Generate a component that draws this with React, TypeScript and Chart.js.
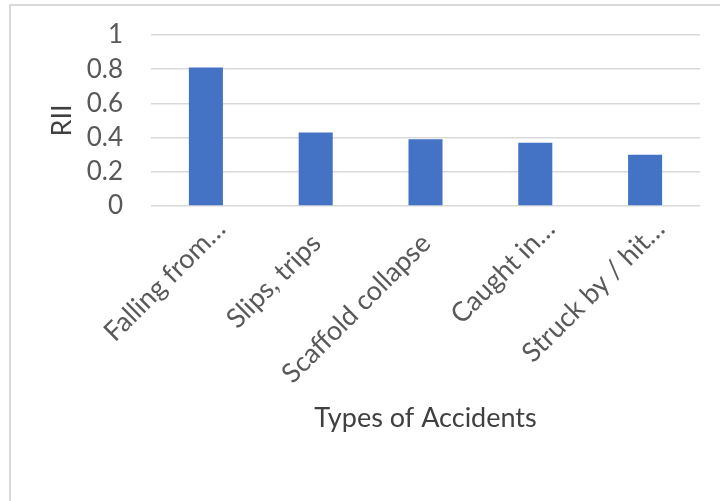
import React, { useEffect, useRef } from 'react';
import { Chart, registerables } from 'chart.js';

Chart.register(...registerables);

// Excel truncates the long names with an ellipsis; the full labels end a little lower along the diagonal.
const categories = ['Falling from…', 'Slips, trips\u2002 ', 'Scaffold collapse\u2002 ', 'Caught in…', 'Struck by / hit…'];
const riiValues = [0.81, 0.43, 0.39, 0.37, 0.3];
const yAxisTitle = 'RII';
const xAxisTitle = 'Types of Accidents';

const TEXT = '#595959';
const TITLE = '#404040';
const FONT = 'Lato, "Open Sans", sans-serif';

const framePlugin = {
  id: 'frame',
  beforeDraw(chart: any) {
    const ctx = chart.ctx;
    ctx.save();
    ctx.fillStyle = '#ffffff';
    ctx.fillRect(0, 0, chart.width, chart.height);
    ctx.strokeStyle = '#d9d9d9';
    ctx.lineWidth = 2;
    ctx.beginPath();
    ctx.moveTo(10, chart.height);
    ctx.lineTo(10, 5);
    ctx.lineTo(chart.width, 5);
    ctx.stroke();
    ctx.restore();
  },
};

export default function App() {
  const ref = useRef<HTMLCanvasElement | null>(null);

  useEffect(() => {
    if (!ref.current) return;
    const chart = new Chart(ref.current, {
      type: 'bar',
      data: {
        labels: categories,
        datasets: [
          {
            data: riiValues,
            backgroundColor: '#4472C4',
            borderWidth: 0,
            barPercentage: 0.31,
            categoryPercentage: 1,
          },
        ],
      },
      options: {
        responsive: false,
        animation: false,
        layout: { padding: { top: 35, right: 20, left: 0, bottom: 0 } },
        plugins: { legend: { display: false }, tooltip: { enabled: false } },
        scales: {
          x: {
            grid: { display: false, drawTicks: false },
            border: { display: false },
            ticks: {
              autoSkip: false,
              maxRotation: 45,
              minRotation: 45,
              padding: 7,
              labelOffset: 15,
              color: TEXT,
              font: { family: FONT, size: 27 },
            },
            title: {
              display: true,
              text: xAxisTitle,
              color: TITLE,
              font: { family: FONT, size: 27 },
              padding: { top: 0, bottom: 67 },
            },
            afterFit(s: any) {
              s.height = 295;
              s.paddingLeft = 0;
              s.paddingRight = 0;
            },
          },
          y: {
            min: 0,
            max: 1,
            ticks: {
              stepSize: 0.2,
              padding: 28,
              color: TEXT,
              font: { family: FONT, size: 26 },
              callback: (v: any) => String(Number(Number(v).toFixed(1))),
            },
            grid: { color: '#d9d9d9', lineWidth: 1.5, drawTicks: false },
            border: { display: false },
            title: {
              display: true,
              text: yAxisTitle,
              color: TITLE,
              font: { family: FONT, size: 27 },
              padding: { top: 46, bottom: 0 },
            },
            afterFit(s: any) {
              s.width = 151;
              s.paddingTop = 0;
              s.paddingBottom = 0;
            },
          },
        },
      },
      plugins: [framePlugin],
    });
    return () => chart.destroy();
  }, []);

  return (
    <div style={{ position: 'absolute', left: 0, top: 0, width: 720, height: 501, background: '#fff' }}>
      <canvas ref={ref} width={720} height={501} style={{ display: 'block' }} />
    </div>
  );
}
